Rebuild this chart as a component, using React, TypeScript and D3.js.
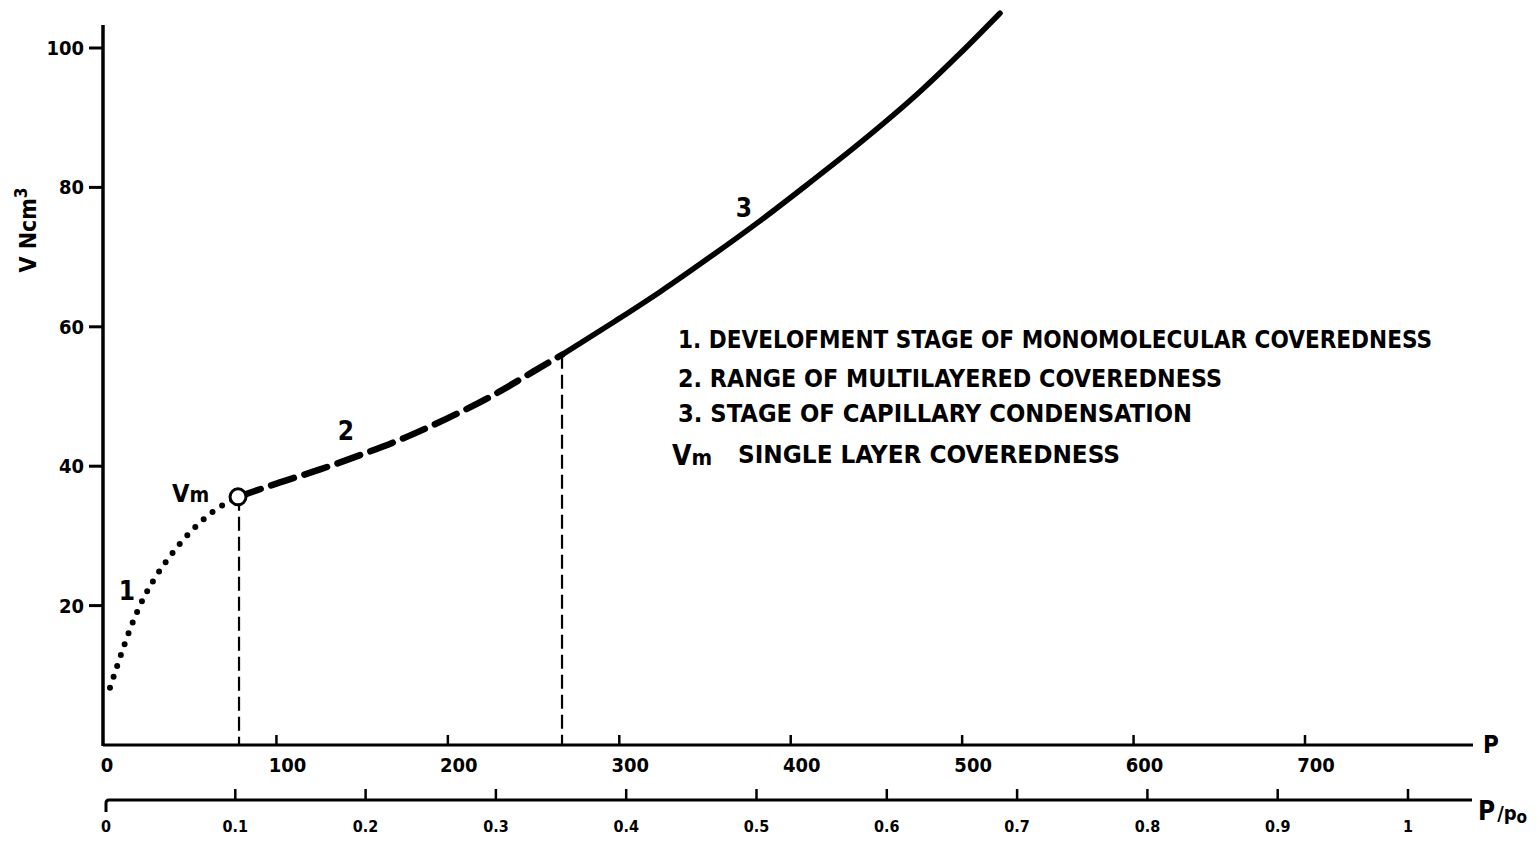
import React from 'react';
import * as d3 from 'd3';

// ---- data ----
const P_TICKS = [100, 200, 300, 400, 500, 600, 700];
const P_LABELS = ['100', '200', '300', '400', '500', '600', '700'];
const V_TICKS = [20, 40, 60, 80, 100];
const V_LABELS = ['20', '40', '60', '80', '100'];
const REL_TICKS = [0.1, 0.2, 0.3, 0.4, 0.5, 0.6, 0.7, 0.8, 0.9, 1];
const REL_LABELS = ['0.1', '0.2', '0.3', '0.4', '0.5', '0.6', '0.7', '0.8', '0.9', '1'];

// stage 1 (dotted): development of monomolecular coveredness
const STAGE1_P = [2.9, 8, 14, 20, 28, 38, 50, 62, 77.6];
const STAGE1_V = [8.2, 12.0, 16.2, 19.8, 23.5, 27.1, 30.6, 33.3, 35.6];
// stage 2 (dashed): multilayered coveredness
const STAGE2_P = [77.6, 100, 125, 150, 175, 200, 225, 250, 266.6];
const STAGE2_V = [35.6, 37.5, 39.5, 41.7, 44.1, 46.9, 50.0, 53.6, 56.0];
// stage 3 (solid): capillary condensation
const STAGE3_P = [266.6, 297.5, 323.7, 352.9, 382.1, 411.2, 437.5, 476.6, 498.7, 522.1];
const STAGE3_V = [56.0, 60.8, 65.0, 70.0, 75.2, 80.7, 85.8, 94.0, 99.2, 105.0];

const VM_P = 77.6;
const VM_V = 35.6;
const CAP_P = 266.6;
const CAP_V = 56.0;

const LEGEND_LINES = [
  '1. DEVELOFMENT STAGE OF MONOMOLECULAR COVEREDNESS',
  '2. RANGE OF MULTILAYERED COVEREDNESS',
  '3. STAGE OF CAPILLARY CONDENSATION',
];
const LEGEND_VM = 'SINGLE LAYER COVEREDNESS';

const FONT = "'DejaVu Sans Condensed', 'DejaVu Sans', sans-serif";

export default function App() {
  const x = d3.scaleLinear().domain([0, 700]).range([105, 1305]);
  const y = d3.scaleLinear().domain([0, 100]).range([745, 48]);
  const r = d3.scaleLinear().domain([0, 1]).range([105, 1408]);

  const line = d3
    .line<[number, number]>()
    .x((d) => x(d[0]))
    .y((d) => y(d[1]))
    .curve(d3.curveMonotoneX);

  const zip = (a: number[], b: number[]) => a.map((v, i) => [v, b[i]] as [number, number]);
  const s1 = line(zip(STAGE1_P, STAGE1_V)) || '';
  const s2 = line(zip(STAGE2_P, STAGE2_V)) || '';
  const s3 = line(zip(STAGE3_P, STAGE3_V)) || '';

  const axisY = y(0);
  const relY = 800;
  const legendX = 678;
  const legendW = [754, 544, 514];
  const legendBase = [348, 387, 422];

  return (
    <svg
      width={1540}
      height={847}
      style={{ position: 'absolute', left: 0, top: 0, display: 'block', background: '#fff' }}
      fontFamily={FONT}
    >
      <rect x={0} y={0} width={1540} height={847} fill="#fff" />

      {/* Y axis */}
      <line x1={x(0) - 2} x2={x(0) - 2} y1={25} y2={axisY + 1} stroke="#000" strokeWidth={3.5} />
      {V_TICKS.map((v, i) => (
        <g key={'vt' + v}>
          <line x1={89} x2={x(0) - 2} y1={y(v)} y2={y(v)} stroke="#000" strokeWidth={3} />
          <text x={84} y={y(v) + 7} textAnchor="end" fontSize={20} fontWeight="bold" fill="#000">
            {V_LABELS[i]}
          </text>
        </g>
      ))}
      <text
        transform={`translate(36,${230}) rotate(-90)`}
        textAnchor="middle"
        fontSize={23}
        fontWeight="bold"
        fill="#000"
      >
        V Ncm<tspan fontSize={17} dy={-9}>3</tspan>
      </text>

      {/* P axis */}
      <line x1={x(0) - 2} x2={1473} y1={axisY} y2={axisY} stroke="#000" strokeWidth={3} />
      {P_TICKS.map((p, i) => (
        <g key={'pt' + p}>
          <line x1={x(p)} x2={x(p)} y1={axisY - 10} y2={axisY} stroke="#000" strokeWidth={2.5} />
          <text x={x(p) + 11} y={772} textAnchor="middle" fontSize={20} fontWeight="bold" fill="#000">
            {P_LABELS[i]}
          </text>
        </g>
      ))}
      <text x={x(0) + 2} y={772} textAnchor="middle" fontSize={20} fontWeight="bold" fill="#000">
        0
      </text>
      <text x={1483} y={753} fontSize={24} fontWeight="bold" fill="#000">
        P
      </text>

      {/* P/Po axis */}
      <path
        d={`M${r(0) + 1},${relY + 12} L${r(0) + 1},${relY + 3} Q${r(0) + 1},${relY} ${r(0) + 4},${relY} L1472,${relY}`}
        fill="none"
        stroke="#000"
        strokeWidth={3}
      />
      {REL_TICKS.map((t, i) => (
        <g key={'rt' + t}>
          <line x1={r(t)} x2={r(t)} y1={relY - 11} y2={relY} stroke="#000" strokeWidth={2.5} />
          <text x={r(t)} y={832} textAnchor="middle" fontSize={16} fontWeight="bold" fill="#000">
            {REL_LABELS[i]}
          </text>
        </g>
      ))}
      <text x={r(0) + 1} y={832} textAnchor="middle" fontSize={16} fontWeight="bold" fill="#000">
        0
      </text>
      <text x={1478} y={820} fontSize={26} fontWeight="bold" fill="#000">
        P
        <tspan fontSize={20} dx={2}>/p</tspan>
        <tspan fontSize={17} dy={3}>o</tspan>
      </text>

      {/* vertical dashed guide lines */}
      <line
        x1={x(VM_P) + 1}
        x2={x(VM_P) + 1}
        y1={y(VM_V)}
        y2={axisY}
        stroke="#000"
        strokeWidth={2.2}
        strokeDasharray="14 6"
      />
      <line
        x1={x(CAP_P)}
        x2={x(CAP_P)}
        y1={y(CAP_V)}
        y2={axisY}
        stroke="#000"
        strokeWidth={2.2}
        strokeDasharray="14 6"
      />

      {/* curve */}
      <path d={s1} fill="none" stroke="#000" strokeWidth={6} strokeLinecap="round" strokeDasharray="0 11.5" />
      <path d={s2} fill="none" stroke="#000" strokeWidth={6.5} strokeLinecap="round" strokeDasharray="24 11" />
      <path d={s3} fill="none" stroke="#000" strokeWidth={5.5} strokeLinecap="round" />
      <circle cx={x(VM_P)} cy={y(VM_V)} r={8} fill="#fff" stroke="#000" strokeWidth={3} />

      {/* stage labels */}
      <text x={127} y={600} textAnchor="middle" fontSize={26} fontWeight="bold" fill="#000">1</text>
      <text x={346} y={440} textAnchor="middle" fontSize={26} fontWeight="bold" fill="#000">2</text>
      <text x={744} y={217} textAnchor="middle" fontSize={26} fontWeight="bold" fill="#000">3</text>
      <text x={172} y={502} fontSize={25} fontWeight="bold" fill="#000">
        V<tspan fontSize={21}>m</tspan>
      </text>

      {/* legend */}
      {LEGEND_LINES.map((t, i) => (
        <text
          key={'lg' + i}
          x={legendX}
          y={legendBase[i]}
          fontSize={24}
          fontWeight="bold"
          fill="#000"
          textLength={legendW[i]}
          lengthAdjust="spacingAndGlyphs"
        >
          {t}
        </text>
      ))}
      <text x={672} y={465} fontSize={28} fontWeight="bold" fill="#000">
        V<tspan fontSize={22}>m</tspan>
      </text>
      <text
        x={738}
        y={463}
        fontSize={24}
        fontWeight="bold"
        fill="#000"
        textLength={382}
        lengthAdjust="spacingAndGlyphs"
      >
        {LEGEND_VM}
      </text>
    </svg>
  );
}
